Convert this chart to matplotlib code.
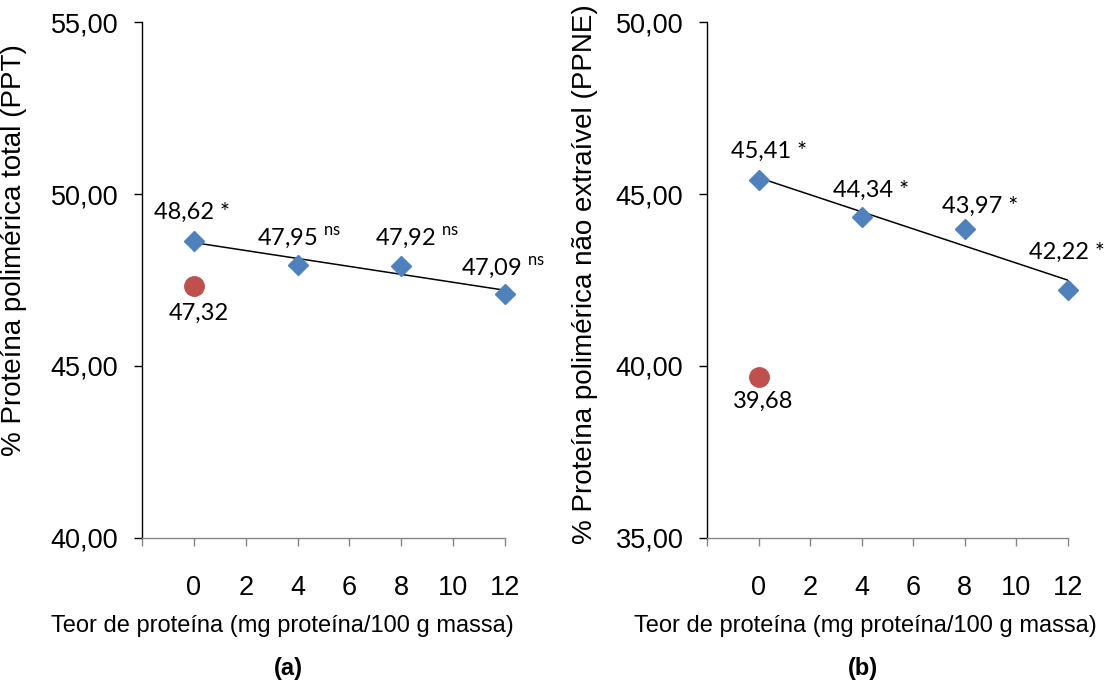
import numpy as np
import matplotlib
matplotlib.use("Agg")
import matplotlib.pyplot as plt

plt.rcParams['font.family'] = ['Liberation Sans', 'DejaVu Sans']
plt.rcParams['mathtext.fontset'] = 'custom'
plt.rcParams['mathtext.rm'] = 'Lato'

# dados
teor = [0, 4, 8, 12]
ppt = [48.62, 47.95, 47.92, 47.09]
ppt_sig = ['*', 'ns', 'ns', 'ns']
ppt_controle = 47.32
ppne = [45.41, 44.34, 43.97, 42.22]
ppne_sig = ['*', '*', '*', '*']
ppne_controle = 39.68

xticks = [-2, 0, 2, 4, 6, 8, 10, 12]
xticklabels = ['', '0', '2', '4', '6', '8', '10', '12']

blue = '#4F81BD'
red = '#C0504D'
gray = '#868686'


def fmt(v):
    return ('%.2f' % v).replace('.', ',')


def label(v, sig):
    if sig == 'ns':
        return fmt(v) + r' $^{\mathrm{ns}}$'
    return fmt(v) + ' ' + sig


def panel(ax, y, sig, ctrl, ylim, ylabel, offsets, ctrl_off, lx, ly):
    coef = np.polyfit(teor, y, 1)
    xs = np.array([teor[0], teor[-1]])
    ax.plot(xs, np.polyval(coef, xs), color='black', lw=1.1, zorder=2)
    ax.plot(teor, y, 'D', color=blue, ms=10, mec=blue, zorder=3, clip_on=False)
    ax.plot([0], [ctrl], 'o', color=red, ms=14, mec=red, zorder=3)

    for xi, yi, s, off in zip(teor, y, sig, offsets):
        ax.annotate(label(yi, s), (xi, yi), xytext=off, textcoords='offset pixels',
                    ha='center', va='baseline', fontsize=17, family='Lato')
    ax.annotate(fmt(ctrl), (0, ctrl), xytext=ctrl_off, textcoords='offset pixels',
                ha='center', va='baseline', fontsize=17, family='Lato')

    ax.set_xlim(-2, 12)
    ax.set_ylim(*ylim)
    ax.set_xticks(xticks)
    ax.set_xticklabels(xticklabels)
    yt = np.arange(ylim[0], ylim[1] + 0.1, 5)
    ax.set_yticks(yt)
    ax.set_yticklabels([fmt(v) for v in yt])

    ax.spines['top'].set_visible(False)
    ax.spines['right'].set_visible(False)
    ax.spines['left'].set_color('black')
    ax.spines['left'].set_linewidth(1.0)
    ax.spines['bottom'].set_color(gray)
    ax.spines['bottom'].set_linewidth(1.0)
    ax.tick_params(axis='y', length=6, width=1.0, color='black', pad=11, labelsize=19.5)
    ax.tick_params(axis='x', length=6, width=1.0, color=gray, pad=21, labelsize=19.5)

    ax.set_ylabel(ylabel, fontsize=20)
    ax.yaxis.set_label_coords(ly[0], ly[1])
    ax.set_xlabel('Teor de proteína (mg proteína/100 g massa)', fontsize=17)
    ax.xaxis.set_label_coords(lx[0], lx[1])


fig = plt.figure(figsize=(11.12, 6.84), dpi=100)
ax1 = fig.add_axes([0.1277, 0.2135, 0.3264, 0.7543])
ax2 = fig.add_axes([0.6358, 0.2135, 0.3246, 0.7543])

panel(ax1, ppt, ppt_sig, ppt_controle, (40, 55),
      '% Proteína polimérica total (PPT)',
      [(-2, 23), (2, 19), (16, 20), (-2, 19)], (5, -34),
      (0.386, -0.150), (-0.317, 0.558))
panel(ax2, ppne, ppne_sig, ppne_controle, (35, 50),
      '% Proteína polimérica não extraível (PPNE)',
      [(10, 22), (9, 20), (15, 17), (-1, 31)], (5, -31),
      (0.438, -0.150), (-0.302, 0.512))

fig.text(288 / 1112, 1 - 668 / 684, '(a)', ha='center', va='center',
         fontsize=17, fontweight='bold')
fig.text(863 / 1112, 1 - 668 / 684, '(b)', ha='center', va='center',
         fontsize=17, fontweight='bold')

fig.savefig('out.png', dpi=100)
